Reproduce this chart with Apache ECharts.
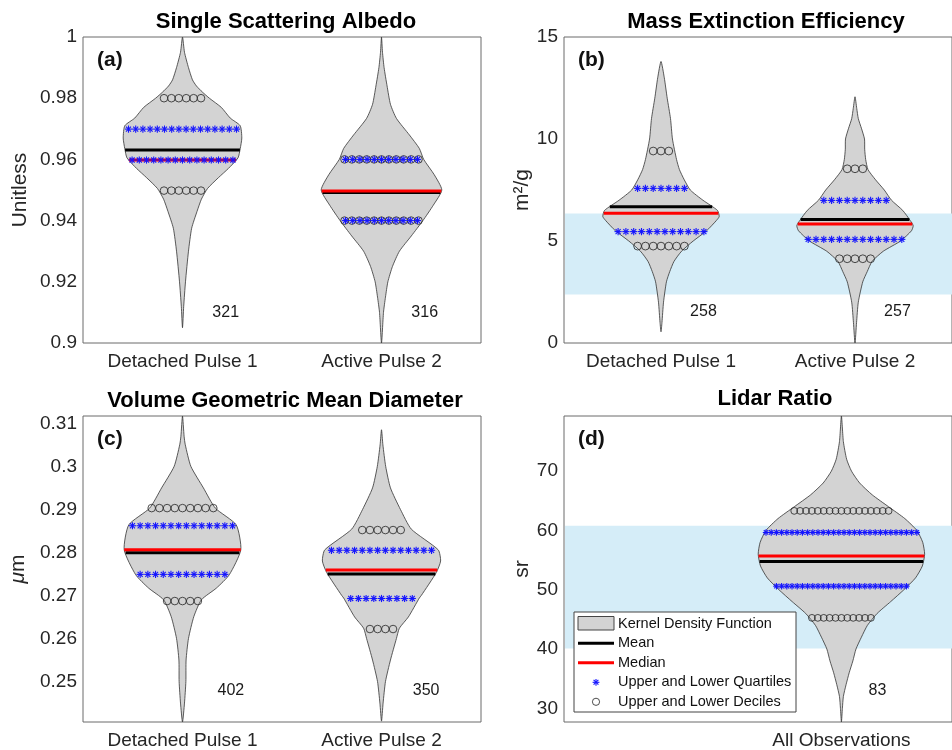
<!DOCTYPE html>
<html>
<head>
<meta charset="utf-8">
<script src="https://cdn.jsdelivr.net/npm/echarts@6/dist/echarts.min.js"></script>
<style>
  html, body { margin: 0; padding: 0; background: #fff; }
  #chart { width: 952px; height: 750px; }
</style>
</head>
<body>
<div id="chart"></div>
<script>
// ---------- data ----------
const pulseCats = ['Detached Pulse 1', 'Active Pulse 2'];
const lidarCats = ['All Observations'];

// kernel density outlines: [value, half width in x-axis units]
const ssaDetached = [[1.0, 0], [0.995, 0.01], [0.99, 0.03], [0.986, 0.05], [0.984, 0.07], [0.982, 0.1], [0.98, 0.135],
  [0.977, 0.195], [0.9735, 0.24], [0.971, 0.29], [0.967, 0.298], [0.9635, 0.29], [0.9605, 0.279], [0.957, 0.23],
  [0.954, 0.18], [0.9505, 0.126], [0.947, 0.095], [0.943, 0.073], [0.9375, 0.046], [0.93, 0.03], [0.92, 0.015],
  [0.912, 0.006], [0.905, 0]];
const ssaActive = [[1.0, 0], [0.995, 0.005], [0.99, 0.013], [0.984, 0.028], [0.978, 0.045], [0.9734, 0.075],
  [0.968, 0.14], [0.9636, 0.19], [0.96, 0.212], [0.955, 0.265], [0.95, 0.303], [0.945, 0.26], [0.94, 0.208],
  [0.935, 0.15], [0.93, 0.09], [0.925, 0.055], [0.92, 0.032], [0.915, 0.02], [0.91, 0.01], [0.9, 0]];
const meeDetached = [[13.8, 0], [13, 0.017], [12, 0.032], [11, 0.049], [10, 0.059], [9, 0.08], [8.5, 0.095],
  [8, 0.12], [7.5, 0.151], [7, 0.216], [6.5, 0.291], [6.2, 0.3], [6, 0.285], [5.5, 0.235], [5, 0.166],
  [4.5, 0.106], [4, 0.067], [3.5, 0.045], [3, 0.028], [2, 0.013], [1, 0.005], [0.55, 0]];
const meeActive = [[12.07, 0], [11.5, 0.009], [11, 0.017], [10.5, 0.034], [10, 0.049], [9.5, 0.05], [9, 0.055],
  [8.5, 0.067], [8, 0.106], [7.5, 0.151], [7, 0.188], [6.5, 0.246], [6, 0.285], [5.75, 0.3], [5.5, 0.291],
  [5, 0.235], [4.5, 0.146], [4, 0.088], [3.5, 0.063], [3, 0.04], [2, 0.017], [1, 0.008], [0, 0]];
const vgmdDetached = [[0.3117, 0], [0.307, 0.008], [0.305, 0.014], [0.3, 0.042], [0.295, 0.105], [0.2903, 0.165],
  [0.2864, 0.27], [0.2806, 0.293], [0.2748, 0.235], [0.2717, 0.17], [0.269, 0.095], [0.2651, 0.057], [0.26, 0.03],
  [0.255, 0.018], [0.25, 0.017], [0.245, 0.01], [0.2406, 0]];
const vgmdActive = [[0.3085, 0], [0.305, 0.007], [0.3, 0.021], [0.295, 0.045], [0.29, 0.095], [0.2854, 0.15],
  [0.2806, 0.285], [0.278, 0.297], [0.2753, 0.275], [0.27, 0.2], [0.2694, 0.19], [0.265, 0.135], [0.2624, 0.09],
  [0.26, 0.075], [0.255, 0.045], [0.25, 0.02], [0.245, 0.008], [0.2408, 0]];
const lidarAll = [[79.3, 0], [75, 0.01], [72, 0.027], [70, 0.052], [68, 0.094], [66, 0.159], [64, 0.243],
  [62, 0.327], [60, 0.389], [58, 0.419], [56, 0.429], [54, 0.417], [52, 0.382], [50, 0.322], [48, 0.254],
  [46, 0.184], [44, 0.134], [42, 0.103], [40, 0.075], [38, 0.059], [36, 0.04], [34, 0.024], [32, 0.01],
  [30, 0.005], [27.7, 0]];

// statistics per violin
const ssaMean = [0.9631, 0.9492];
const ssaMedian = [0.9598, 0.9497];
const ssaQuartiles = [[0.9598, 0.9699], [0.94, 0.96]];
const ssaDeciles = [[0.9498, 0.98], [0.94, 0.96]];
const ssaQuartileMarks = [[15, 16], [11, 11]];
const ssaDecileMarks = [[6, 6], [11, 11]];
const ssaN = [321, 316];

const meeMean = [6.68, 6.06];
const meeMedian = [6.36, 5.83];
const meeQuartiles = [[5.46, 7.58], [5.08, 6.99]];
const meeDeciles = [[4.75, 9.41], [4.13, 8.54]];
const meeQuartileMarks = [[12, 7], [13, 9]];
const meeDecileMarks = [[7, 3], [5, 3]];
const meeN = [258, 257];
const meeRange = [2.38, 6.35];

const vgmdMean = [0.2799, 0.275];
const vgmdMedian = [0.2806, 0.2759];
const vgmdQuartiles = [[0.2749, 0.2862], [0.2693, 0.2805]];
const vgmdDeciles = [[0.2687, 0.2903], [0.2622, 0.2852]];
const vgmdQuartileMarks = [[12, 14], [9, 14]];
const vgmdDecileMarks = [[5, 9], [4, 6]];
const vgmdN = [402, 350];

const lidarMean = [54.77];
const lidarMedian = [55.7];
const lidarQuartiles = [[50.6, 59.66]];
const lidarDeciles = [[45.26, 63.3]];
const lidarQuartileMarks = [[26, 30]];
const lidarDecileMarks = [[11, 17]];
const lidarN = [83];
const lidarRange = [40.1, 60.78];

const ssaTicks = [0.9, 0.92, 0.94, 0.96, 0.98, 1];
const meeTicks = [0, 5, 10, 15];
const vgmdTicks = [0.25, 0.26, 0.27, 0.28, 0.29, 0.3, 0.31];
const lidarTicks = [30, 40, 50, 60, 70];

// ---------- layout ----------
const FONT = '"Liberation Sans", Arial, Helvetica, sans-serif';
const TXT = '#262626';

const panels = [
  {
    tag: '(a)', title: 'Single Scattering Albedo', name: 'Unitless', nameGap: 52,
    grid: { left: 83, top: 37, width: 398, height: 306 }, titleX: 286, titleY: 22,
    xMin: 0.5, xMax: 2.5, cats: pulseCats, yMin: 0.9, yMax: 1, ticks: ssaTicks,
    shapes: [ssaDetached, ssaActive], mean: ssaMean, median: ssaMedian,
    quart: ssaQuartiles, dec: ssaDeciles, quartN: ssaQuartileMarks, decN: ssaDecileMarks,
    n: ssaN, nY: 0.9101, nDx: [0.15, 0.15], starGap: 7.2, ringGap: 7.4, starR: 3.6, ringR: 3.8
  },
  {
    tag: '(b)', title: 'Mass Extinction Efficiency', name: 'm²/g', nameGap: 31,
    grid: { left: 564, top: 37, width: 398, height: 306 }, titleX: 766, titleY: 22,
    xMin: 0.5, xMax: 2.5, cats: pulseCats, yMin: 0, yMax: 15, ticks: meeTicks,
    shapes: [meeDetached, meeActive], mean: meeMean, median: meeMedian,
    quart: meeQuartiles, dec: meeDeciles, quartN: meeQuartileMarks, decN: meeDecileMarks,
    n: meeN, nY: 1.52, nDx: [0.15, 0.15], band: meeRange, starGap: 7.8, ringGap: 7.8, starR: 3.6, ringR: 3.9
  },
  {
    tag: '(c)', title: 'Volume Geometric Mean Diameter', name: '{i|μ}m', nameGap: 54,
    grid: { left: 83, top: 416, width: 398, height: 306 }, titleX: 285, titleY: 401,
    xMin: 0.5, xMax: 2.5, cats: pulseCats, yMin: 0.2406, yMax: 0.3117, ticks: vgmdTicks,
    shapes: [vgmdDetached, vgmdActive], mean: vgmdMean, median: vgmdMedian,
    quart: vgmdQuartiles, dec: vgmdDeciles, quartN: vgmdQuartileMarks, decN: vgmdDecileMarks,
    n: vgmdN, nY: 0.2479, nDx: [0.176, 0.157], starGap: 7.7, ringGap: 7.7, starR: 3.6, ringR: 3.8
  },
  {
    tag: '(d)', title: 'Lidar Ratio', name: 'sr', nameGap: 31,
    grid: { left: 564, top: 416, width: 398, height: 306 }, titleX: 775, titleY: 399,
    xMin: -0.43, xMax: 1.57, cats: lidarCats, yMin: 27.7, yMax: 79.3, ticks: lidarTicks,
    shapes: [lidarAll], mean: lidarMean, median: lidarMedian,
    quart: lidarQuartiles, dec: lidarDeciles, quartN: lidarQuartileMarks, decN: lidarDecileMarks,
    n: lidarN, nY: 33, nDx: [0.14], band: lidarRange, starGap: 5.2, ringGap: 5.9, starR: 3.2, ringR: 3.4
  }
];

// width of a violin at a given value (linear between outline points)
function halfWidthAt(shape, v) {
  for (let i = 0; i < shape.length - 1; i++) {
    const [v0, w0] = shape[i];
    const [v1, w1] = shape[i + 1];
    if (v <= v0 && v >= v1) {
      const t = (v0 - v) / (v0 - v1);
      return w0 + t * (w1 - w0);
    }
  }
  return 0;
}

const grids = [], xAxes = [], yAxes = [], series = [], graphics = [];

panels.forEach((p, pi) => {
  grids.push(Object.assign({ show: true, borderColor: '#6a6a6a', borderWidth: 1, backgroundColor: '#fff' }, p.grid));

  xAxes.push({
    gridIndex: pi, type: 'value', min: p.xMin, max: p.xMax,
    axisLine: { show: false }, axisTick: { show: false }, splitLine: { show: false },
    axisLabel: {
      customValues: p.cats.map((c, i) => i + 1),
      formatter: (v) => p.cats[Math.round(v) - 1] || '',
      color: TXT, fontSize: 19, fontFamily: FONT, margin: 9
    }
  });

  yAxes.push({
    gridIndex: pi, type: 'value', min: p.yMin, max: p.yMax,
    axisLine: { show: false }, axisTick: { show: false }, splitLine: { show: false },
    axisLabel: {
      customValues: p.ticks,
      formatter: (v) => String(+v.toFixed(4)),
      color: TXT, fontSize: 19, fontFamily: FONT, margin: 6
    },
    name: p.name, nameLocation: 'middle', nameGap: p.nameGap, nameRotate: 90,
    nameTextStyle: {
      color: TXT, fontSize: 21, fontFamily: FONT,
      rich: { i: { fontStyle: 'italic', fontSize: 21, fontFamily: FONT, color: TXT } }
    }
  });

  const centers = p.shapes.map((s, i) => p.xMin === 0.5 ? i + 1 : 1);
  const axes = { xAxisIndex: pi, yAxisIndex: pi };

  if (p.band) {
    series.push(Object.assign({
      type: 'custom', z: 1, silent: true,
      data: [[p.band[0], p.band[1]]],
      renderItem: (params, api) => {
        const cs = params.coordSys;
        const top = api.coord([p.xMin, api.value(1)])[1];
        const bot = api.coord([p.xMin, api.value(0)])[1];
        return {
          type: 'rect',
          shape: { x: cs.x + 1, y: top, width: cs.width, height: bot - top },
          style: { fill: '#d5edf8' }
        };
      }
    }, axes));
  }

  // violins
  series.push(Object.assign({
    type: 'custom', z: 2, silent: true,
    data: centers.map((c, i) => [c, i]),
    renderItem: (params, api) => {
      const shape = p.shapes[params.dataIndex];
      const cx = api.value(0);
      const right = shape.map((d) => api.coord([cx + d[1], d[0]]));
      const left = shape.slice(1, -1).reverse().map((d) => api.coord([cx - d[1], d[0]]));
      return {
        type: 'polygon',
        shape: { points: right.concat(left), smooth: 0.2 },
        style: { fill: '#d3d3d3', stroke: '#333', lineWidth: 0.8 }
      };
    }
  }, axes));

  // mean (black) then median (red)
  const lineRows = [];
  centers.forEach((c, i) => lineRows.push([c, p.mean[i], 0, i]));
  centers.forEach((c, i) => lineRows.push([c, p.median[i], 1, i]));
  series.push(Object.assign({
    type: 'custom', z: 3, silent: true,
    data: lineRows,
    renderItem: (params, api) => {
      const cx = api.value(0), v = api.value(1);
      const w = halfWidthAt(p.shapes[api.value(3)], v);
      const a = api.coord([cx - w, v]);
      const b = api.coord([cx + w, v]);
      return {
        type: 'line',
        shape: { x1: a[0], y1: a[1], x2: b[0], y2: b[1] },
        style: { stroke: api.value(2) ? '#ff0000' : '#000', lineWidth: 3 }
      };
    }
  }, axes));

  // deciles (circles) and quartiles (stars)
  const markRows = [];
  centers.forEach((c, i) => {
    p.dec[i].forEach((v, k) => markRows.push([c, v, p.decN[i][k], 0]));
    p.quart[i].forEach((v, k) => markRows.push([c, v, p.quartN[i][k], 1]));
  });
  series.push(Object.assign({
    type: 'custom', z: 4, silent: true,
    data: markRows,
    renderItem: (params, api) => {
      const pt = api.coord([api.value(0), api.value(1)]);
      const n = api.value(2), star = api.value(3) === 1;
      const gap = star ? p.starGap : p.ringGap;
      const children = [];
      for (let k = 0; k < n; k++) {
        const x = pt[0] + (k - (n - 1) / 2) * gap, y = pt[1];
        if (!star) {
          children.push({
            type: 'circle', shape: { cx: x, cy: y, r: p.ringR },
            style: { fill: 'none', stroke: '#222', lineWidth: 0.8 }
          });
        } else {
          const r = p.starR, q = r * 0.7;
          [[-r, 0, r, 0], [0, -r, 0, r], [-q, -q, q, q], [-q, q, q, -q]].forEach((s) => {
            children.push({
              type: 'line', shape: { x1: x + s[0], y1: y + s[1], x2: x + s[2], y2: y + s[3] },
              style: { stroke: '#1414ff', lineWidth: 1.1 }
            });
          });
        }
      }
      return { type: 'group', children };
    }
  }, axes));

  // number of observations
  series.push(Object.assign({
    type: 'custom', z: 5, silent: true,
    data: centers.map((c, i) => [c + p.nDx[i], p.nY, p.n[i]]),
    renderItem: (params, api) => {
      const pt = api.coord([api.value(0), api.value(1)]);
      return {
        type: 'text', x: pt[0], y: pt[1],
        style: { text: String(api.value(2)), fill: '#1a1a1a', font: '16px ' + FONT, align: 'left', verticalAlign: 'middle' }
      };
    }
  }, axes));

  graphics.push({
    type: 'text', x: p.titleX, y: p.titleY, z: 10,
    style: { text: p.title, fill: '#000', font: 'bold 22px ' + FONT, align: 'center', verticalAlign: 'middle' }
  });
  graphics.push({
    type: 'text', x: p.grid.left + 14, y: p.grid.top + 23, z: 10,
    style: { text: p.tag, fill: '#111', font: 'bold 21px ' + FONT, align: 'left', verticalAlign: 'middle' }
  });
});

// legend box in panel (d)
const lg = { x: 574, y: 612, w: 222, h: 100 };
const rowY = [623.5, 643.2, 662.8, 682.3, 701.8];
const legendText = ['Kernel Density Function', 'Mean', 'Median', 'Upper and Lower Quartiles', 'Upper and Lower Deciles'];
const legendParts = [
  { type: 'rect', shape: { x: lg.x, y: lg.y, width: lg.w, height: lg.h }, style: { fill: '#fff', stroke: '#444', lineWidth: 1 } },
  { type: 'rect', shape: { x: 578, y: 616.5, width: 36, height: 13.5 }, style: { fill: '#d3d3d3', stroke: '#444', lineWidth: 1 } },
  { type: 'line', shape: { x1: 578, y1: rowY[1], x2: 614, y2: rowY[1] }, style: { stroke: '#000', lineWidth: 3 } },
  { type: 'line', shape: { x1: 578, y1: rowY[2], x2: 614, y2: rowY[2] }, style: { stroke: '#ff0000', lineWidth: 3 } },
  { type: 'circle', shape: { cx: 596, cy: rowY[4], r: 3.6 }, style: { fill: 'none', stroke: '#222', lineWidth: 0.8 } }
];
[[-3.4, 0, 3.4, 0], [0, -3.4, 0, 3.4], [-2.4, -2.4, 2.4, 2.4], [-2.4, 2.4, 2.4, -2.4]].forEach((s) => {
  legendParts.push({
    type: 'line', shape: { x1: 596 + s[0], y1: rowY[3] + s[1], x2: 596 + s[2], y2: rowY[3] + s[3] },
    style: { stroke: '#1414ff', lineWidth: 1.1 }
  });
});
legendText.forEach((t, i) => {
  legendParts.push({
    type: 'text', x: 618, y: rowY[i],
    style: { text: t, fill: '#111', font: '14.5px ' + FONT, align: 'left', verticalAlign: 'middle' }
  });
});
legendParts.forEach((el) => {
  el.z = 100;
  el.zlevel = 1;
  graphics.push(el);
});

const chart = echarts.init(document.getElementById('chart'), null, { renderer: 'canvas' });
chart.setOption({
  animation: false,
  backgroundColor: '#fff',
  grid: grids,
  xAxis: xAxes,
  yAxis: yAxes,
  series: series,
  graphic: graphics
});
</script>
</body>
</html>
